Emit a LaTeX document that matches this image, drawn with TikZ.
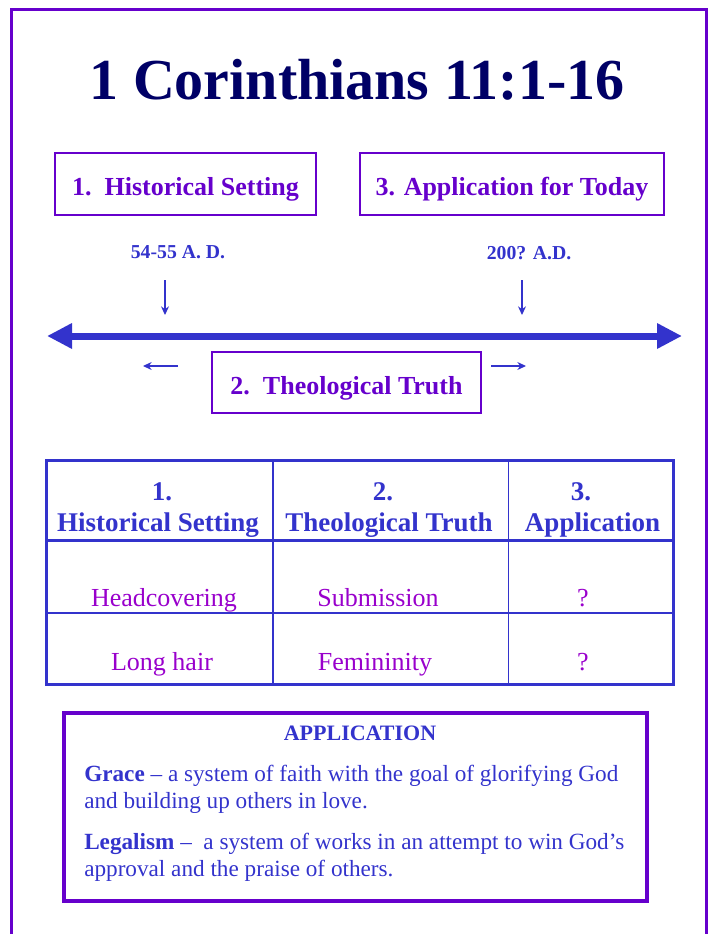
\documentclass[tikz,border=0pt]{standalone}
\usepackage{fontspec}
\setmainfont{Liberation Serif}
\usepackage{xcolor}
\usepackage{tikz}
\usetikzlibrary{arrows.meta,positioning}

\definecolor{navy}{RGB}{0,0,102}
\definecolor{boxpurple}{RGB}{102,0,204}
\definecolor{tblue}{RGB}{51,51,204}
\definecolor{rowmag}{RGB}{153,0,204}

\begin{document}
\begin{tikzpicture}[
  x=0.75pt, y=-0.75pt,
  every node/.style={inner sep=0pt},
  labelbox/.style={draw=boxpurple, line width=1.1pt, text=boxpurple, font=\fontsize{19.5pt}{22pt}\selectfont\bfseries, text height=21pt, text depth=3pt},
  date/.style={anchor=base, text=tblue, font=\fontsize{14.8pt}{17pt}\selectfont\bfseries},
  tip/.style={-{Stealth[length=6.5pt, width=6pt]}, tblue, line width=0.8pt},
  head/.style={anchor=base, text=tblue, font=\fontsize{20.25pt}{24pt}\selectfont\bfseries},
  cell/.style={anchor=base, text=rowmag, font=\fontsize{19.5pt}{22pt}\selectfont},
  para/.style={anchor=base west, text=tblue, align=left, font=\fontsize{17.4pt}{19.9pt}\selectfont}
]
  \useasboundingbox (0,0) rectangle (707,934);

  % Page frame
  \draw[boxpurple, line width=2.25pt] (11,950) -- (11,9.5) -- (706,9.5) -- (706,950);

  % Title
  \node[anchor=base, text=navy, font=\fontsize{43.5pt}{50pt}\selectfont\bfseries] (title) at (357,100) {1 Corinthians 11:1-16};

  % The three steps
  \node[labelbox, minimum width=195.75pt, minimum height=46.5pt] (hist) at (185.5,184) {1.~~Historical Setting};
  \node[labelbox, minimum width=228pt, minimum height=46.5pt] (appl) at (512,184) {3. Application for Today};
  \node[labelbox, minimum width=201.75pt, minimum height=45.75pt] (theo) at (346.5,382.5) {2.~~Theological Truth};

  % Dates on the time line
  \node[date] (d1) at (178,258.5) {54-55 A. D.};
  \node[date] (d2) at (529,259) {200? A.D.};
  \coordinate (a1) at (165,280);
  \coordinate (t1) at (165,315);
  \coordinate (a2) at (522,280);
  \coordinate (t2) at (522,315);
  \draw[tip] (a1) -- (t1);
  \draw[tip] (a2) -- (t2);

  % Time line
  \coordinate (tl) at (47,336);
  \coordinate (tr) at (682,336);
  \draw[tblue, line width=5.25pt, {Triangle[length=18.75pt, width=18pt]}-{Triangle[length=18.75pt, width=18pt]}] (tl) -- (tr);

  % Small arrows beside the truth box
  \coordinate (l1) at (178,366);
  \coordinate (l2) at (143,366);
  \coordinate (r1) at (491,366);
  \coordinate (r2) at (526,366);
  \draw[tip] (l1) -- (l2);
  \draw[tip] (r1) -- (r2);

  % Table
  \draw[tblue, line width=2.25pt] (46,460.5) rectangle (673,684.5);
  \draw[tblue, line width=2.25pt] (46,540) -- (673,540);
  \draw[tblue, line width=0.9pt] (46,613) -- (673,613);
  \foreach \x in {273,508.5} {
    \draw[tblue, line width=0.9pt] (\x,460.5) -- (\x,684.5);
  }

  % Table heads
  \foreach \i/\xa/\xb/\t in {1/162/158/Historical Setting, 2/383/389/Theological Truth, 3/581/592.5/Application} {
    \node[head] (n\i) at (\xa,500) {\i.};
    \node[head] (h\i) at (\xb,531.7) {\t};
  }

  % Table rows
  \foreach \i/\xa/\xb/\a/\b in {1/164/162/Headcovering/Long hair, 2/378/375/Submission/Femininity, 3/583/583/?/?} {
    \node[cell] (ra\i) at (\xa,606.7) {\a};
    \node[cell] (rb\i) at (\xb,670) {\b};
  }

  % Application box
  \draw[boxpurple, line width=2.6pt] (64,713) rectangle (647,901);
  \node[anchor=base, text=tblue, font=\fontsize{16.5pt}{19pt}\selectfont\bfseries] (apphead) at (360,740) {APPLICATION};
  \node[para] (grace) at (84,808) {\textbf{Grace} – a system of faith with the goal of glorifying God\\and building up others in love.};
  \node[para] (legal) at (84,876.5) {\textbf{Legalism} –~~a system of works in an attempt to win God’s\\approval and the praise of others.};
\end{tikzpicture}
\end{document}
